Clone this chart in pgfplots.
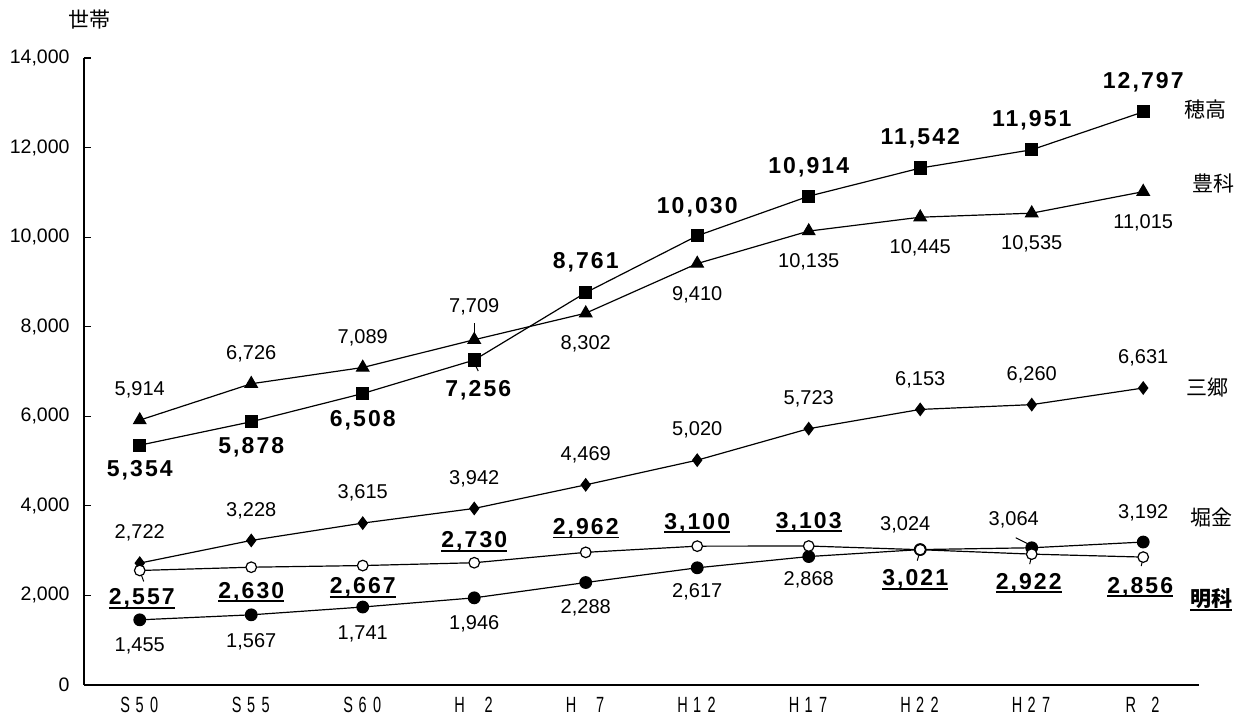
\documentclass[border=0pt]{standalone}
\usepackage{pgfplots}
\pgfplotsset{compat=1.18}
\usepackage{fontspec}
\usepackage{graphicx}
\setmainfont{Liberation Sans}
\newfontfamily\jp{Noto Sans CJK JP}
\newfontfamily\bnum{Liberation Sans}[LetterSpace=9]

% one character of a tick label, condensed, fixed pitch
\newcommand\ch[1]{\makebox[14.5pt]{\scalebox{0.66}[1]{#1}}}
% thick underline
\newcommand\ul[1]{\setbox0\hbox{#1}\rlap{\rule[-4pt]{\wd0}{1.8pt}}\box0}

\tikzset{
  lab/.style={font=\fontsize{20}{20}\selectfont, inner sep=0pt},
  blab/.style={font=\bnum\bfseries\fontsize{23}{23}\selectfont, inner sep=0pt},
  jl/.style={font=\jp\fontsize{21}{21}\selectfont, inner sep=0pt},
}

\begin{document}
\begin{tikzpicture}
\useasboundingbox (-84pt,-37pt) rectangle (1160pt,685pt);
\begin{axis}[
  at={(0,0)}, anchor=south west,
  scale only axis, width=1115pt, height=627pt,
  xmin=-0.5, xmax=9.5, ymin=0, ymax=14000,
  axis x line*=bottom, axis y line*=left,
  axis line style={line width=1.2pt},
  clip=false,
  xtick={0,...,9},
  xticklabels={{\ch{S}\ch{5}\ch{0}},{\ch{S}\ch{5}\ch{5}},{\ch{S}\ch{6}\ch{0}},
    {\ch{H}\ch{}\ch{2}},{\ch{H}\ch{}\ch{7}},{\ch{H}\ch{1}\ch{2}},{\ch{H}\ch{1}\ch{7}},
    {\ch{H}\ch{2}\ch{2}},{\ch{H}\ch{2}\ch{7}},{\ch{R}\hspace{10pt}\ch{2}}},
  minor xtick={0.5,1.5,...,9.5},
  xtick style={draw=none},
  minor tick length=7pt,
  major tick length=7pt,
  tick align=inside,
  tick style={line width=1.2pt, black},
  ytick={0,2000,...,14000},
  scaled y ticks=false,
  /pgf/number format/.cd, 1000 sep={,}, assume math mode=true,
  /pgfplots/.cd,
  yticklabel style={font=\fontsize{19.5}{19.5}\selectfont, xshift=-11pt},
  xticklabel style={font=\fontsize{22}{22}\selectfont, yshift=-9pt},
  every axis plot/.append style={black, line width=1.2pt},
]
% 穂高
\addplot[mark=square*, mark size=6pt] coordinates {
  (0,5354) (1,5878) (2,6508) (3,7256) (4,8761) (5,10030) (6,10914) (7,11542) (8,11951) (9,12797)};
% 豊科
\addplot[mark=triangle*, mark size=7pt] coordinates {
  (0,5914) (1,6726) (2,7089) (3,7709) (4,8302) (5,9410) (6,10135) (7,10445) (8,10535) (9,11015)};
% 三郷
\addplot[mark=diamond*, mark size=6pt] coordinates {
  (0,2722) (1,3228) (2,3615) (3,3942) (4,4469) (5,5020) (6,5723) (7,6153) (8,6260) (9,6631)};
% 堀金
\addplot[mark=*, mark size=5.8pt] coordinates {
  (0,1455) (1,1567) (2,1741) (3,1946) (4,2288) (5,2617) (6,2868) (7,3024) (8,3064) (9,3192)};
% 明科
\addplot[mark=*, mark size=5.3pt, mark options={fill=white}] coordinates {
  (0,2557) (1,2630) (2,2667) (3,2730) (4,2962) (5,3100) (6,3103) (7,3021) (8,2922) (9,2856)};

% leader lines
\draw[line width=1pt] ([yshift=-3pt]axis cs:3,7256) -- ++(4pt,-8pt);
\draw[line width=1pt] (axis cs:3,7709) -- ++(0pt,17pt);
\draw[line width=1pt] (axis cs:0,2557) -- ++(4pt,-11pt);
\draw[line width=1pt] ([yshift=-1pt]axis cs:7,3021) -- ++(-3pt,-10pt);
\draw[line width=1pt] ([yshift=-1pt]axis cs:8,2922) -- ++(-2pt,-9pt);
\draw[line width=1pt] (axis cs:9,2856) -- ++(-2pt,-9pt);
\draw[line width=1pt] ([yshift=2pt]axis cs:8,3064) -- ++(-16pt,8pt);

% 穂高 labels
\node[blab, yshift=-25pt] at (axis cs:0,5354) {5,354};
\node[blab, yshift=-26pt] at (axis cs:1,5878) {5,878};
\node[blab, yshift=-27pt] at (axis cs:2,6508) {6,508};
\node[blab, yshift=-30pt, xshift=4pt] at (axis cs:3,7256) {7,256};
\node[blab, yshift=30pt] at (axis cs:4,8761) {8,761};
\node[blab, yshift=29pt] at (axis cs:5,10030) {10,030};
\node[blab, yshift=29pt] at (axis cs:6,10914) {10,914};
\node[blab, yshift=30pt] at (axis cs:7,11542) {11,542};
\node[blab, yshift=30pt] at (axis cs:8,11951) {11,951};
\node[blab, yshift=30pt] at (axis cs:9,12797) {12,797};

% 豊科 labels
\node[lab, yshift=30pt] at (axis cs:0,5914) {5,914};
\node[lab, yshift=30pt] at (axis cs:1,6726) {6,726};
\node[lab, yshift=30pt] at (axis cs:2,7089) {7,089};
\node[lab, yshift=33pt] at (axis cs:3,7709) {7,709};
\node[lab, yshift=-31pt] at (axis cs:4,8302) {8,302};
\node[lab, yshift=-31pt] at (axis cs:5,9410) {9,410};
\node[lab, yshift=-31pt] at (axis cs:6,10135) {10,135};
\node[lab, yshift=-31pt] at (axis cs:7,10445) {10,445};
\node[lab, yshift=-31pt] at (axis cs:8,10535) {10,535};
\node[lab, yshift=-31pt] at (axis cs:9,11015) {11,015};

% 三郷 labels
\node[lab, yshift=30pt] at (axis cs:0,2722) {2,722};
\node[lab, yshift=30pt] at (axis cs:1,3228) {3,228};
\node[lab, yshift=30pt] at (axis cs:2,3615) {3,615};
\node[lab, yshift=30pt] at (axis cs:3,3942) {3,942};
\node[lab, yshift=30pt] at (axis cs:4,4469) {4,469};
\node[lab, yshift=30pt] at (axis cs:5,5020) {5,020};
\node[lab, yshift=30pt] at (axis cs:6,5723) {5,723};
\node[lab, yshift=30pt] at (axis cs:7,6153) {6,153};
\node[lab, yshift=30pt] at (axis cs:8,6260) {6,260};
\node[lab, yshift=30pt] at (axis cs:9,6631) {6,631};

% 堀金 labels
\node[lab, yshift=-26pt] at (axis cs:0,1455) {1,455};
\node[lab, yshift=-27pt] at (axis cs:1,1567) {1,567};
\node[lab, yshift=-27pt] at (axis cs:2,1741) {1,741};
\node[lab, yshift=-26pt] at (axis cs:3,1946) {1,946};
\node[lab, yshift=-25pt] at (axis cs:4,2288) {2,288};
\node[lab, yshift=-24pt] at (axis cs:5,2617) {2,617};
\node[lab, yshift=-23pt] at (axis cs:6,2868) {2,868};
\node[lab, yshift=25pt, xshift=-15pt] at (axis cs:7,3024) {3,024};
\node[lab, yshift=28pt, xshift=-18pt] at (axis cs:8,3064) {3,064};
\node[lab, yshift=29pt] at (axis cs:9,3192) {3,192};

% 明科 labels
\node[blab, yshift=-28pt, xshift=2pt] at (axis cs:0,2557) {\ul{2,557}};
\node[blab, yshift=-25pt] at (axis cs:1,2630) {\ul{2,630}};
\node[blab, yshift=-22pt] at (axis cs:2,2667) {\ul{2,667}};
\node[blab, yshift=21pt] at (axis cs:3,2730) {\ul{2,730}};
\node[blab, yshift=24pt] at (axis cs:4,2962) {\ul{2,962}};
\node[blab, yshift=23pt] at (axis cs:5,3100) {\ul{3,100}};
\node[blab, yshift=24pt] at (axis cs:6,3103) {\ul{3,103}};
\node[blab, yshift=-30pt, xshift=-5pt] at (axis cs:7,3021) {\ul{3,021}};
\node[blab, yshift=-29pt, xshift=-3pt] at (axis cs:8,2922) {\ul{2,922}};
\node[blab, yshift=-30pt, xshift=-3pt] at (axis cs:9,2856) {\ul{2,856}};

% series names and unit
\node[jl] at (axis cs:9.56,12839) {穂高};
\node[jl] at (axis cs:9.63,11209) {豊科};
\node[jl] at (axis cs:9.58,6632) {三郷};
\node[jl] at (axis cs:9.61,3751) {堀金};
\node[jl] at (axis cs:9.61,1898) {\bfseries\ul{明科}};
\node[jl] at (axis cs:-0.448,14849) {世帯};
\end{axis}
\end{tikzpicture}
\end{document}
